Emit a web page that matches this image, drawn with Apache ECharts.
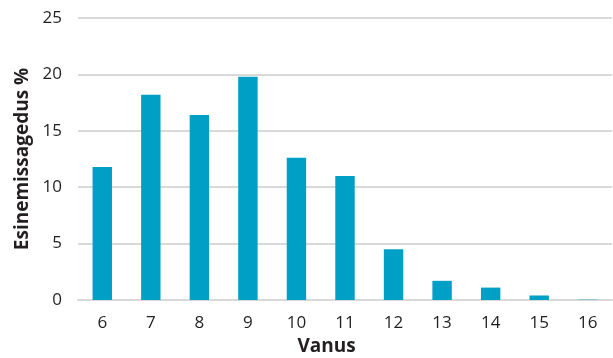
<!DOCTYPE html>
<html>
<head>
<meta charset="utf-8">
<script src="https://cdn.jsdelivr.net/npm/echarts@6/dist/echarts.min.js"></script>
<style>html,body{margin:0;padding:0;background:#fff}#c{width:613px;height:358px}</style>
</head>
<body>
<div id="c"></div>
<script>
const categories = ['6','7','8','9','10','11','12','13','14','15','16'];
const values = [11.8, 18.2, 16.4, 19.8, 12.6, 11.0, 4.5, 1.7, 1.1, 0.4, 0.03];
const yTicks = [0, 5, 10, 15, 20, 25];
const xTitle = 'Vanus';
const yTitle = 'Esinemissagedus %';

const chart = echarts.init(document.getElementById('c'), null, {renderer: 'canvas'});
chart.setOption({
  animation: false,
  grid: {left: 78, right: 1, top: 18, bottom: 58, containLabel: false, outerBoundsMode: 'none'},
  xAxis: {
    type: 'category',
    data: categories,
    name: xTitle,
    nameLocation: 'middle',
    nameGap: 35,
    nameTextStyle: {fontFamily: 'Open Sans', fontWeight: 'bold', fontSize: 19, color: '#231f20', padding: [0, 37, 0, 0]},
    axisLine: {show: true, lineStyle: {color: '#d9d9d9', width: 2}},
    axisTick: {show: false},
    axisLabel: {fontFamily: 'Open Sans', fontSize: 17, color: '#231f20', margin: 15}
  },
  yAxis: {
    type: 'value',
    min: yTicks[0],
    max: yTicks[yTicks.length - 1],
    interval: 5,
    name: yTitle,
    nameLocation: 'middle',
    nameGap: 46,
    nameRotate: 90,
    nameTextStyle: {fontFamily: 'Open Sans', fontWeight: 'bold', fontSize: 19, color: '#231f20'},
    axisLine: {show: false},
    axisTick: {show: false},
    splitLine: {lineStyle: {color: '#d9d9d9', width: 2}},
    axisLabel: {fontFamily: 'Open Sans', fontSize: 17, color: '#231f20', margin: 16}
  },
  series: [{
    type: 'bar',
    data: values,
    barWidth: '40%',
    itemStyle: {color: '#00a0c6'}
  }]
});
</script>
</body>
</html>
